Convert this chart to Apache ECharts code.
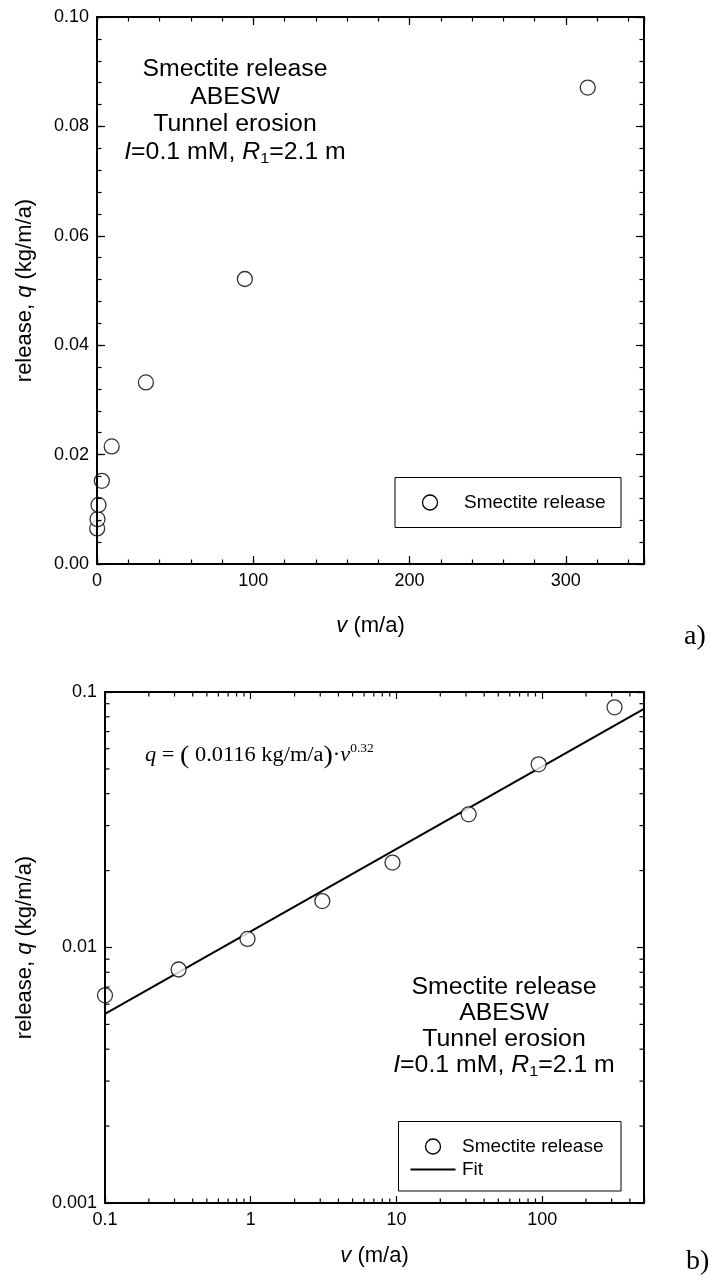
<!DOCTYPE html>
<html><head><meta charset="utf-8">
<script src="https://cdn.jsdelivr.net/npm/echarts@6/dist/echarts.min.js"></script>
<style>html,body{margin:0;padding:0;background:#fff}#c{width:711px;height:1282px}</style>
</head><body><div id="c"></div>
<script>
// ---- data ----
const velocity = [0.1, 0.32, 0.95, 3.1, 9.4, 31.3, 94.6, 314];
const release = [0.0065, 0.0082, 0.0108, 0.0152, 0.0215, 0.0332, 0.0521, 0.0871];
const fitVelocity = [0.1, 500];
const fitRelease = [0.0055, 0.0858];
const seriesName = 'Smectite release';
const fitName = 'Fit';
const linXLabels = [0, 100, 200, 300];
const linYLabels = ['0.00', '0.02', '0.04', '0.06', '0.08', '0.10'];
const logXLabels = ['0.1', '1', '10', '100'];
const logYLabels = ['0.001', '0.01', '0.1'];
const logMinorX = [0.2,0.3,0.4,0.5,0.6,0.7,0.8,0.9, 2,3,4,5,6,7,8,9, 20,30,40,50,60,70,80,90, 200,300,400];
const logMinorY = [0.002,0.003,0.004,0.005,0.006,0.007,0.008,0.009, 0.02,0.03,0.04,0.05,0.06,0.07,0.08,0.09];
const annotationLines = ['Smectite release', 'ABESW', 'Tunnel erosion'];

// ---- helpers ----
const SANS = '"Liberation Sans", Arial, sans-serif';
const SERIF = '"Liberation Serif", "Times New Roman", serif';
const points = velocity.map((v, i) => [v, release[i]]);
const fitPoints = fitVelocity.map((v, i) => [v, fitRelease[i]]);

function axis(o) {
  const a = {
    gridIndex: o.grid, type: o.type || 'value', position: o.pos,
    min: o.min, max: o.max,
    axisLine: {show: true, onZero: false, lineStyle: {color: '#000', width: 2}},
    axisTick: {show: true, inside: true, length: o.tick, lineStyle: {color: '#000', width: 1.2}},
    axisLabel: {show: false},
    splitLine: {show: false}, minorTick: {show: false}, minorSplitLine: {show: false},
    z: 5
  };
  if (o.interval != null) a.interval = o.interval;
  if (o.type === 'log') a.logBase = 10;
  if (o.label) a.axisLabel = Object.assign({show: true, color: '#000', fontSize: 18, fontFamily: SANS, margin: 8, showMaxLabel: true, showMinLabel: true}, o.label);
  if (o.name) {
    a.name = o.name; a.nameLocation = 'middle'; a.nameGap = o.nameGap;
    a.nameTextStyle = {color: '#000', fontSize: 22, fontFamily: SANS,
      rich: {i: {fontStyle: 'italic', fontSize: 22, fontFamily: SANS, color: '#000'}}};
  }
  return a;
}

const xAxes = [
  axis({grid: 0, pos: 'bottom', min: 0, max: 350, interval: 100, tick: 8,
        label: {formatter: v => (linXLabels.indexOf(v) >= 0 ? String(v) : '')},
        name: '{i|v} (m/a)', nameGap: 51}),
  axis({grid: 0, pos: 'bottom', min: 0, max: 350, interval: 20, tick: 4.5}),
  axis({grid: 0, pos: 'top', min: 0, max: 350, interval: 100, tick: 8}),
  axis({grid: 0, pos: 'top', min: 0, max: 350, interval: 20, tick: 4.5}),
  axis({grid: 1, type: 'log', pos: 'bottom', min: 0.1, max: 500, tick: 7,
        label: {formatter: v => { const s = String(+(+v).toPrecision(3)); return logXLabels.indexOf(s) >= 0 ? s : ''; }},
        name: '{i|v} (m/a)', nameGap: 42}),
  axis({grid: 1, type: 'log', pos: 'top', min: 0.1, max: 500, tick: 7})
];
const yAxes = [
  axis({grid: 0, pos: 'left', min: 0, max: 0.1, interval: 0.02, tick: 8,
        label: {formatter: v => { const s = (+v).toFixed(2); return linYLabels.indexOf(s) >= 0 ? s : ''; }},
        name: 'release, {i|q} (kg/m/a)', nameGap: 61}),
  axis({grid: 0, pos: 'left', min: 0, max: 0.1, interval: 0.004, tick: 4.5}),
  axis({grid: 0, pos: 'right', min: 0, max: 0.1, interval: 0.02, tick: 8}),
  axis({grid: 0, pos: 'right', min: 0, max: 0.1, interval: 0.004, tick: 4.5}),
  axis({grid: 1, type: 'log', pos: 'left', min: 0.001, max: 0.1, tick: 7,
        label: {formatter: v => { const s = String(+(+v).toPrecision(3)); return logYLabels.indexOf(s) >= 0 ? s : ''; }},
        name: 'release, {i|q} (kg/m/a)', nameGap: 69}),
  axis({grid: 1, type: 'log', pos: 'right', min: 0.001, max: 0.1, tick: 7})
];

const LOGX = [0.1, 500], LOGY = [0.001, 0.1];
const MINOR = 4.5;
const tickStyle = {stroke: '#000', lineWidth: 1.2};
const scatterStyle = {color: '#fff', borderColor: '#000', borderWidth: 1.3};

const option = {
  backgroundColor: '#fff',
  animation: false,
  grid: [
    {left: 97, top: 17, width: 547, height: 547},
    {left: 105, top: 692, width: 539, height: 511}
  ],
  xAxis: xAxes,
  yAxis: yAxes,
  series: [
    {name: seriesName, type: 'scatter', xAxisIndex: 0, yAxisIndex: 0, data: points,
     symbol: 'circle', symbolSize: 15, itemStyle: scatterStyle, z: 4, clip: false},
    {type: 'custom', xAxisIndex: 4, yAxisIndex: 4, silent: true, clip: false, z: 5,
     data: logMinorX.map(v => [v, LOGY[0]]),
     renderItem: (params, api) => {
       const v = api.value(0);
       const b = api.coord([v, LOGY[0]]), t = api.coord([v, LOGY[1]]);
       return {type: 'group', children: [
         {type: 'line', shape: {x1: b[0], y1: b[1], x2: b[0], y2: b[1] - MINOR}, style: tickStyle},
         {type: 'line', shape: {x1: t[0], y1: t[1], x2: t[0], y2: t[1] + MINOR}, style: tickStyle}
       ]};
     }},
    {type: 'custom', xAxisIndex: 4, yAxisIndex: 4, silent: true, clip: false, z: 5,
     data: logMinorY.map(q => [LOGX[0], q]),
     renderItem: (params, api) => {
       const q = api.value(1);
       const l = api.coord([LOGX[0], q]), r = api.coord([LOGX[1], q]);
       return {type: 'group', children: [
         {type: 'line', shape: {x1: l[0], y1: l[1], x2: l[0] + MINOR, y2: l[1]}, style: tickStyle},
         {type: 'line', shape: {x1: r[0], y1: r[1], x2: r[0] - MINOR, y2: r[1]}, style: tickStyle}
       ]};
     }},
    {name: fitName, type: 'line', xAxisIndex: 4, yAxisIndex: 4, data: fitPoints,
     showSymbol: false, symbol: 'none', lineStyle: {color: '#000', width: 2}, itemStyle: {color: '#000'}, z: 3},
    {name: seriesName, type: 'scatter', xAxisIndex: 4, yAxisIndex: 4, data: points,
     symbol: 'circle', symbolSize: 15, itemStyle: scatterStyle, z: 4, clip: false}
  ],
  graphic: []
};

function annotation(cx, top, lh) {
  const fs = 23;
  const n = {fontSize: fs, fontFamily: SANS, fill: '#000', lineHeight: lh, verticalAlign: 'middle'};
  const it = Object.assign({}, n, {fontStyle: 'italic'});
  const sub = {fontSize: 15, fontFamily: SANS, fill: '#000', lineHeight: 12, verticalAlign: 'bottom'};
  const text = annotationLines.map(s => '{n|' + s + '}').join('\n') +
    '\n{it|I}{n|=0.1 mM, }{it|R}{sub|1}{n|=2.1 m}';
  return {type: 'text', x: cx, y: top, scaleX: 1.08, z: 10,
    style: {text: text, align: 'center', verticalAlign: 'top', fontSize: fs, fontFamily: SANS, lineHeight: lh,
      rich: {n: n, it: it, sub: sub}}};
}
option.graphic.push(annotation(235, 56, 27.5));
option.graphic.push(annotation(504, 975, 26));

// formula
(function () {
  const t = {fontSize: 20, fontFamily: SERIF, fill: '#000', lineHeight: 26, verticalAlign: 'middle'};
  option.graphic.push({type: 'text', x: 145, y: 743, scaleX: 1.12, z: 10,
    style: {text: '{q|q}{t| = }{p|(}{t| 0.0116 kg/m/a}{p|)}{t|\u00b7}{q|v}{s|0.32}',
      align: 'left', verticalAlign: 'top', fontSize: 20, fontFamily: SERIF,
      rich: {t: t, q: Object.assign({}, t, {fontStyle: 'italic'}),
        p: {fontSize: 25, fontFamily: SERIF, fill: '#000', lineHeight: 26, verticalAlign: 'middle'},
        s: {fontSize: 12, fontFamily: SERIF, fill: '#000', lineHeight: 12, verticalAlign: 'top'}}}});
})();

// legends
function legendBox(x, y, w, h, items) {
  option.graphic.push({type: 'rect', shape: {x: x, y: y, width: w, height: h},
    style: {fill: '#fff', stroke: '#000', lineWidth: 1}, z: 8});
  items.forEach(it => {
    if (it.kind === 'circle') {
      option.graphic.push({type: 'circle', shape: {cx: it.ix, cy: it.y, r: 7.5},
        style: {fill: '#fff', stroke: '#000', lineWidth: 1.3}, z: 9});
    } else {
      option.graphic.push({type: 'line', shape: {x1: it.ix - 22.5, y1: it.y, x2: it.ix + 22.5, y2: it.y},
        style: {stroke: '#000', lineWidth: 2}, z: 9});
    }
    option.graphic.push({type: 'text', x: it.tx, y: it.y, z: 9,
      style: {text: it.name, fontSize: 19, fontFamily: SANS, fill: '#000', align: 'left', verticalAlign: 'middle'}});
  });
}
legendBox(395, 477.5, 226, 50, [{kind: 'circle', name: seriesName, ix: 430, tx: 464, y: 502.5}]);
legendBox(398.5, 1121.5, 222.5, 69.5, [
  {kind: 'circle', name: seriesName, ix: 433, tx: 462, y: 1146.5},
  {kind: 'line', name: fitName, ix: 433, tx: 462, y: 1169.5}
]);

option.graphic.push({type: 'text', x: 684, y: 623, style: {text: 'a)', fontSize: 28, fontFamily: SERIF, fill: '#000'}});
option.graphic.push({type: 'text', x: 686, y: 1248, style: {text: 'b)', fontSize: 28, fontFamily: SERIF, fill: '#000'}});

const chart = echarts.init(document.getElementById('c'), null, {renderer: 'canvas'});
chart.setOption(option);
</script></body></html>
